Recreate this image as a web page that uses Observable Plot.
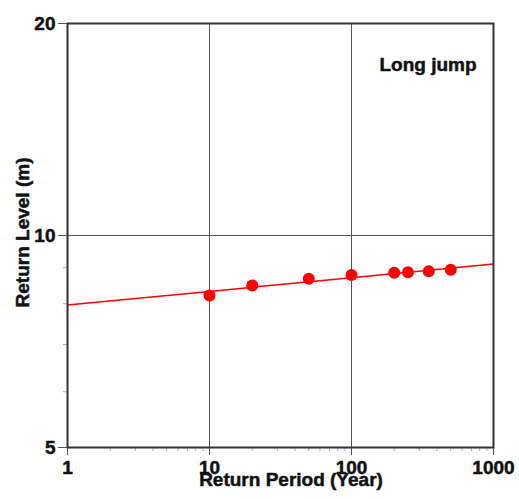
<!DOCTYPE html>
<html>
<head>
<meta charset="utf-8">
<script src="https://cdn.jsdelivr.net/npm/d3@7"></script>
<script src="https://cdn.jsdelivr.net/npm/@observablehq/plot@0.6"></script>
<style>
  html, body { margin: 0; padding: 0; background: #fff; }
  #chart svg { display: block; }
</style>
</head>
<body>
<div id="chart"></div>
<script>
// Observed return levels
const periods = [10, 20, 50, 100, 200, 250, 350, 500];
const levels = [8.22, 8.49, 8.68, 8.79, 8.85, 8.87, 8.90, 8.94];
// Fitted line
const fitPeriods = [1, 10, 100, 1000];
const fitLevels = [7.97, 8.33, 8.71, 9.11];
// Ticks
const xMajor = [1, 10, 100, 1000];
const xMinor = [2,3,4,5,6,7,8,9,20,30,40,50,60,70,80,90,200,300,400,500,600,700,800,900];
const yMajor = [5, 10, 20];
const yMinor = [6, 7, 8, 9];
const xGrid = [10, 100];
const yGrid = [10];
const panelTitle = "Long jump";
const xTitle = "Return Period (Year)";
const yTitle = "Return Level (m)";

const points = periods.map((p, i) => ({p, v: levels[i]}));
const fit = fitPeriods.map((p, i) => ({p, v: fitLevels[i]}));

const font = "'Liberation Sans', Arial, Helvetica, sans-serif";
const fs = 19;
const txt = {fontSize: fs, fontWeight: "bold", fill: "#111", stroke: "#111", strokeWidth: 0.5};

const chart = Plot.plot({
  width: 519,
  height: 499,
  marginLeft: 67,
  marginRight: 26,
  marginTop: 23,
  marginBottom: 52,
  style: {fontFamily: font, background: "#fff", color: "#111", fontSize: "19px", fontWeight: "bold"},
  x: {type: "log", domain: [1, 1000]},
  y: {type: "log", domain: [5, 20]},
  marks: [
    Plot.gridX(xGrid, {stroke: "#555", strokeOpacity: 1, strokeWidth: 1}),
    Plot.gridY(yGrid, {stroke: "#555", strokeOpacity: 1, strokeWidth: 1}),
    Plot.axisX(xMinor, {tickSize: 4, fill: "none", label: null, stroke: "#aaa"}),
    Plot.axisY(yMinor, {tickSize: 4, fill: "none", label: null, stroke: "#aaa"}),
    Plot.axisX(xMajor, {tickSize: 8, fill: "none", label: null, stroke: "#555"}),
    Plot.axisY(yMajor, {tickSize: 9, fill: "none", label: null, stroke: "#555"}),
    Plot.text(xMajor, {x: d => d, frameAnchor: "bottom", lineAnchor: "top", dy: 12.5,
      text: d => String(d), textAnchor: "middle", ...txt}),
    Plot.text(yMajor, {y: d => d, frameAnchor: "left", dx: -12,
      text: d => String(d), textAnchor: "end", ...txt}),
    Plot.line(fit, {x: "p", y: "v", stroke: "#ff0000", strokeWidth: 1.5}),
    Plot.dot(points, {x: "p", y: "v", r: 6, fill: "#ff0000", stroke: "none"}),
    Plot.frame({stroke: "#333", strokeWidth: 2}),
    Plot.text([panelTitle], {frameAnchor: "top-right", dx: -65.5, dy: 34, textAnchor: "middle", ...txt}),
    Plot.text([xTitle], {frameAnchor: "bottom", dx: 10.5, dy: 38.5, textAnchor: "middle", ...txt}),
    Plot.text([yTitle], {frameAnchor: "left", dx: -45, dy: -3, rotate: -90, textAnchor: "middle", ...txt})
  ]
});
document.getElementById("chart").appendChild(chart);
</script>
</body>
</html>
